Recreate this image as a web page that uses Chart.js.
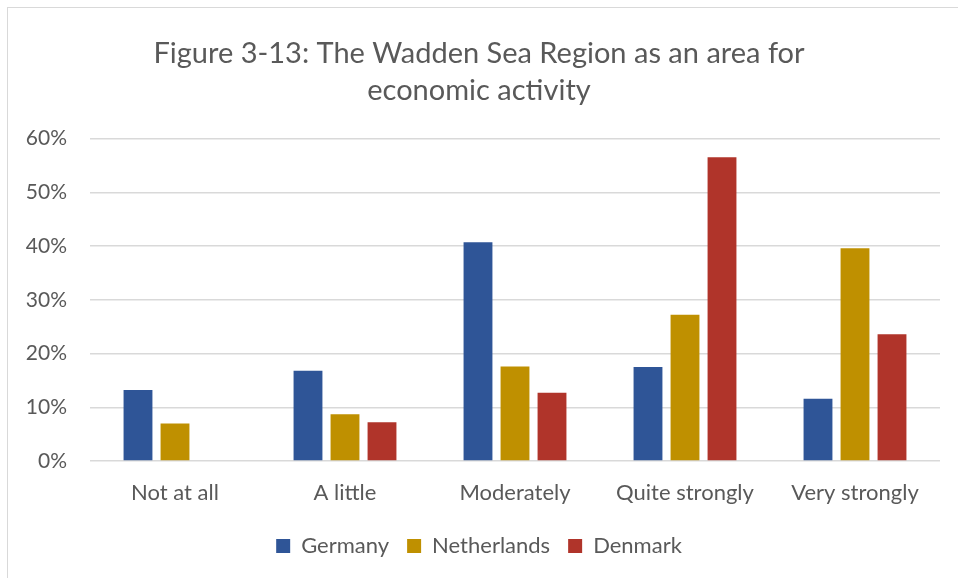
<!DOCTYPE html>
<html>
<head>
<meta charset="utf-8">
<script src="https://cdn.jsdelivr.net/npm/chart.js@4"></script>
<style>
  html, body { margin: 0; padding: 0; background: #fff; }
  #wrap { position: relative; width: 958px; height: 578px; overflow: hidden; }
  #frame { position: absolute; left: 7px; top: 7px; width: 980px; height: 600px; border: 1px solid #d9d9d9; box-sizing: border-box; }
  #chart { position: absolute; left: 0; top: 0; }
</style>
</head>
<body>
<div id="wrap">
  <div id="frame"></div>
  <canvas id="chart" width="958" height="578"></canvas>
</div>
<script>
/* ---------- data ---------- */
const categories = ["Not at all", "A little", "Moderately", "Quite strongly", "Very strongly"];
const germany     = [13.2, 16.8, 40.7, 17.5, 11.6];
const netherlands = [7.0, 8.7, 17.6, 27.2, 39.6];
const denmark     = [0, 7.2, 12.7, 56.5, 23.6];
const yTicks = [0, 10, 20, 30, 40, 50, 60];

const FONT = "Lato, 'Open Sans', sans-serif";
const GREY = "#595959";

function series(label, data, color) {
  return {
    label: label,
    data: data,
    backgroundColor: color,
    borderWidth: 0,
    categoryPercentage: 0.653,
    barPercentage: 0.78
  };
}

new Chart(document.getElementById("chart"), {
  type: "bar",
  data: {
    labels: categories,
    datasets: [
      series("Germany", germany, "#2f5597"),
      series("Netherlands", netherlands, "#bf9000"),
      series("Denmark", denmark, "#b0342a")
    ]
  },
  options: {
    responsive: false,
    animation: false,
    layout: { padding: { left: 18, right: 18, top: 36, bottom: 11 } },
    plugins: {
      title: {
        display: true,
        text: ["Figure 3-13: The Wadden Sea Region as an area for", "economic activity"],
        color: GREY,
        font: { family: FONT, size: 29, weight: "normal", lineHeight: 1.25 },
        padding: { top: 0, bottom: 30 }
      },
      legend: {
        position: "bottom",
        labels: {
          color: GREY,
          font: { family: FONT, size: 22 },
          boxWidth: 14,
          boxHeight: 14,
          padding: 18
        }
      },
      tooltip: { enabled: false }
    },
    scales: {
      x: {
        grid: { display: false },
        border: { display: false },
        afterFit: axis => { axis.height = 56; },
        ticks: { color: GREY, font: { family: FONT, size: 22 }, padding: 11 }
      },
      y: {
        min: 0,
        max: 60,
        afterBuildTicks: axis => { axis.ticks = yTicks.map(v => ({ value: v })); },
        afterFit: axis => { axis.width = 72; },
        grid: { color: "#d9d9d9", lineWidth: 1.5, drawTicks: false },
        border: { display: false },
        ticks: {
          color: GREY,
          font: { family: FONT, size: 21 },
          padding: 23,
          callback: v => v + "%"
        }
      }
    }
  }
});
</script>
</body>
</html>
